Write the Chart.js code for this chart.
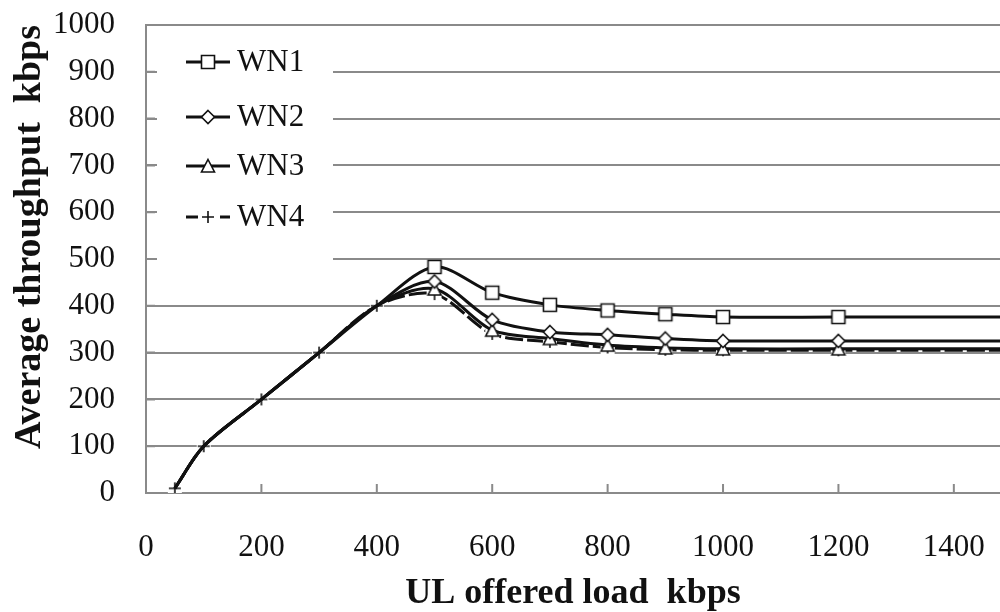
<!DOCTYPE html>
<html>
<head>
<meta charset="utf-8">
<script src="https://cdn.jsdelivr.net/npm/chart.js@4/dist/chart.umd.min.js"></script>
<style>
  html, body { margin: 0; padding: 0; background: #fff; overflow: hidden; width: 1000px; height: 612px; }
  #wrap { position: relative; width: 1010px; height: 612px; }
</style>
</head>
<body>
<div id="wrap"><canvas id="chart"></canvas></div>
<script>
/* UL offered load vs average throughput, four WN series. */
const loadKbps = [50, 100, 200, 300, 400, 500, 600, 700, 800, 900, 1000, 1200, 1600];
const wn1 = [10, 100, 200, 300, 400, 483, 428, 402, 390, 382, 376, 376, 376];
const wn2 = [10, 100, 200, 300, 400, 452, 370, 344, 338, 330, 325, 325, 325];
const wn3 = [10, 100, 200, 300, 400, 436, 348, 330, 316, 310, 308, 308, 308];
const wn4 = [10, 100, 200, 300, 400, 425, 340, 323, 311, 306, 305, 305, 305];
const seriesNames = ["WN1", "WN2", "WN3", "WN4"];
const xTicks = [0, 200, 400, 600, 800, 1000, 1200, 1400];
const yTickStep = 100;

const FONT = "'Liberation Serif', 'Times New Roman', serif";
const GRID = "#8a8a8a";
const INK = "#111";

// small canvases used as point markers (white fill hides the line under them)
function makeMarker(kind) {
  const c = document.createElement("canvas");
  c.width = 18; c.height = 18;
  const g = c.getContext("2d");
  g.strokeStyle = INK; g.fillStyle = "#fff"; g.lineWidth = 1.6;
  g.beginPath();
  if (kind === "square") {
    g.rect(2.5, 2.5, 13, 13);
  } else if (kind === "diamond") {
    g.moveTo(9, 2.5); g.lineTo(15.5, 9); g.lineTo(9, 15.5); g.lineTo(2.5, 9); g.closePath();
  } else if (kind === "triangle") {
    g.moveTo(9, 2.5); g.lineTo(15.5, 15); g.lineTo(2.5, 15); g.closePath();
  } else {
    g.fillRect(2, 2, 14, 14);
    g.moveTo(9, 3); g.lineTo(9, 15); g.moveTo(3, 9); g.lineTo(15, 9);
    g.stroke();
    return c;
  }
  g.fill(); g.stroke();
  return c;
}
const markers = [makeMarker("square"), makeMarker("diamond"), makeMarker("triangle"), makeMarker("plus")];
const dashes = [[], [], [], [18, 4]];

const pts = (ys) => loadKbps.map((x, i) => ({ x, y: ys[i] }));

function ds(i, ys) {
  return {
    label: seriesNames[i],
    data: pts(ys),
    borderColor: INK,
    borderWidth: 3,
    borderDash: dashes[i],
    tension: 0.3,
    pointStyle: markers[i],
    // WN1-3 markers sit under the WN4 crosses on the shared ramp
    pointRadius: (c) => (i < 3 && c.raw && c.raw.x < 500) ? 0 : 7,
    pointHoverRadius: 7,
  };
}

// legend drawn inside the plot, on a white patch over the grid
const insideLegend = {
  id: "insideLegend",
  beforeDatasetsDraw(chart) {
    const { ctx, chartArea: a } = chart;
    const rows = [37, 92, 141, 192];
    ctx.save();
    ctx.fillStyle = "#fff";
    ctx.fillRect(a.left + 11, a.top + 14, 176, 222);
    ctx.font = `31px ${FONT}`;
    ctx.textBaseline = "middle";
    rows.forEach((dy, i) => {
      const y = a.top + dy;
      ctx.strokeStyle = INK;
      ctx.lineWidth = 2.8;
      ctx.setLineDash(dashes[i].length ? [12, 5] : []);
      ctx.beginPath();
      ctx.moveTo(a.left + 40, y); ctx.lineTo(a.left + 84, y);
      ctx.stroke();
      ctx.setLineDash([]);
      ctx.drawImage(markers[i], a.left + 62 - 9, y - 9);
      ctx.fillStyle = INK;
      ctx.fillText(seriesNames[i], a.left + 91, y + 1);
    });
    ctx.restore();
  },
  afterDraw(chart) {
    // short inward tick marks on both axes
    const { ctx, chartArea: a, scales } = chart;
    ctx.save();
    ctx.strokeStyle = GRID;
    ctx.lineWidth = 2;
    ctx.beginPath();
    scales.x.ticks.forEach(t => {
      if (t.value === 0) return;
      const px = scales.x.getPixelForValue(t.value);
      ctx.moveTo(px, a.bottom); ctx.lineTo(px, a.bottom - 9);
    });
    scales.y.ticks.forEach(t => {
      const py = scales.y.getPixelForValue(t.value);
      ctx.moveTo(a.left, py); ctx.lineTo(a.left + 9, py);
    });
    ctx.stroke();
    ctx.restore();
  },
};

new Chart(document.getElementById("chart"), {
  type: "line",
  data: { datasets: [ds(0, wn1), ds(1, wn2), ds(2, wn3), ds(3, wn4)] },
  options: {
    responsive: true, maintainAspectRatio: false,
    animation: false,
    layout: { padding: { top: 25, right: 0, left: 0, bottom: 0 } },
    plugins: { legend: { display: false }, tooltip: { enabled: false } },
    scales: {
      x: {
        type: "linear", min: 0, max: 1480,
        afterBuildTicks: (s) => { s.ticks = xTicks.map(v => ({ value: v })); },
        afterFit: (s) => { s.height = 119; s.paddingLeft = 0; s.paddingRight = 0; },
        ticks: { color: INK, padding: 36, autoSkip: false, maxRotation: 0,
                 font: { family: FONT, size: 31 }, callback: (v) => String(v) },
        grid: { drawOnChartArea: false, drawTicks: false },
        border: { color: GRID, width: 2 },
        title: { display: true, text: "UL offered load  kbps", color: INK, padding: { top: 0, bottom: 0 },
                 font: { family: FONT, size: 36, weight: "bold", lineHeight: 1 } },
      },
      y: {
        min: 0, max: 1000,
        afterFit: (s) => { s.width = 146; s.paddingTop = 0; s.paddingBottom = 0; },
        ticks: { stepSize: yTickStep, color: INK, padding: 31,
                 font: { family: FONT, size: 31 }, callback: (v) => String(v) },
        grid: { color: GRID, lineWidth: 2, drawTicks: false },
        border: { color: GRID, width: 2 },
        title: { display: true, text: "Average throughput  kbps", align: "end", color: INK, padding: { top: 11, bottom: 0 },
                 font: { family: FONT, size: 38, weight: "bold", lineHeight: 1 } },
      },
    },
  },
  plugins: [insideLegend],
});
</script>
</body>
</html>
